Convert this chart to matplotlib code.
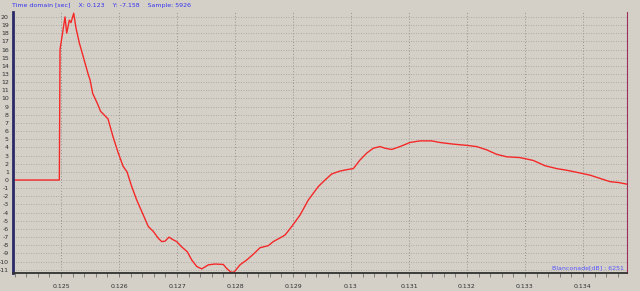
import numpy as np
from matplotlib import pyplot as plt
from matplotlib.ticker import MultipleLocator, FormatStrFormatter

# signal samples (time in sec, amplitude)
t = [0.124172, 0.124971, 0.124983, 0.125069, 0.125098, 0.125143, 0.125172,
     0.125219, 0.125259, 0.125316, 0.125384, 0.125471, 0.125500, 0.125547,
     0.125626, 0.125684, 0.125741, 0.125810, 0.125897, 0.125983, 0.126069,
     0.126138, 0.126219, 0.126305, 0.126419, 0.126505, 0.126591, 0.126678,
     0.126736, 0.126793, 0.126862, 0.126926, 0.126995, 0.127081, 0.127178,
     0.127253, 0.127340, 0.127426, 0.127540, 0.127655, 0.127798, 0.127857,
     0.127931, 0.127983, 0.128086, 0.128202, 0.128316, 0.128431, 0.128574,
     0.128660, 0.128776, 0.128862, 0.128978, 0.129121, 0.129264, 0.129436,
     0.129552, 0.129667, 0.129810, 0.129953, 0.130040, 0.130155, 0.130271,
     0.130384, 0.130500, 0.130586, 0.130702, 0.130845, 0.131017, 0.131190,
     0.131391, 0.131534, 0.131764, 0.131995, 0.132167, 0.132340, 0.132512,
     0.132684, 0.132914, 0.133143, 0.133345, 0.133547, 0.133719, 0.133891,
     0.134121, 0.134293, 0.134466, 0.134609, 0.134753]
amp = [0.0, 0.0, 16.0, 20.0, 18.0, 19.6, 19.3,
       20.45, 18.6, 16.8, 15.1, 12.9, 12.3, 10.6,
       9.4, 8.4, 8.0, 7.5, 5.3, 3.4, 1.7,
       1.0, -0.8, -2.45, -4.3, -5.7, -6.3, -7.15,
       -7.55, -7.5, -7.0, -7.3, -7.55, -8.2, -8.8,
       -9.8, -10.6, -10.9, -10.4, -10.3, -10.35, -10.85,
       -11.3, -11.3, -10.4, -9.8, -9.1, -8.3, -8.05,
       -7.55, -7.1, -6.75, -5.7, -4.3, -2.45, -0.8,
       0.0, 0.74, 1.1, 1.3, 1.4, 2.45, 3.3,
       3.9, 4.1, 3.9, 3.75, 4.1, 4.6, 4.8,
       4.8, 4.6, 4.4, 4.25, 4.1, 3.7, 3.15,
       2.85, 2.75, 2.4, 1.75, 1.4, 1.2, 0.95,
       0.6, 0.2, -0.2, -0.3, -0.5]

xticks = [0.125, 0.126, 0.127, 0.128, 0.129, 0.13, 0.131, 0.132, 0.133, 0.134]
xticklabels = ['0.125', '0.126', '0.127', '0.128', '0.129', '0.13', '0.131',
               '0.132', '0.133', '0.134']
yticks = list(range(-11, 21))

bg = '#d4d0c8'
fig = plt.figure(figsize=(6.4, 2.91), dpi=100, facecolor=bg)
ax = fig.add_axes([13 / 640, 1 - 273 / 291, 614 / 640, 261 / 291], facecolor=bg)

ax.plot(t, amp, color='#f52828', lw=1.0)

ax.set_xlim(0.124172, 0.134759)
ax.set_ylim(-11.4, 20.6)

ax.set_xticks(xticks)
ax.set_xticklabels(xticklabels, fontsize=4.5, color='#303030')
ax.xaxis.set_minor_locator(MultipleLocator(0.0002))
ax.set_yticks(yticks)
ax.set_yticklabels([str(v) for v in yticks], fontsize=4.5, color='#303030')
ax.tick_params(axis='x', which='both', direction='out', length=3, width=0.6,
               color='#707070', pad=5)
ax.tick_params(axis='y', length=0, pad=3)

# grid
ax.grid(axis='y', color='#a09d96', ls=(0, (1, 2)), lw=0.6)
ax.grid(axis='x', color='#96938c', ls=(0, (1, 2)), lw=0.7)

# spines
ax.spines['top'].set_visible(False)
ax.spines['left'].set_color('#2a2a68')
ax.spines['left'].set_linewidth(2)
ax.spines['bottom'].set_color('#303030')
ax.spines['bottom'].set_linewidth(1.3)
ax.spines['right'].set_color('#a03060')
ax.spines['right'].set_linewidth(0.8)

fig.text(12 / 640, 1 - 6 / 291,
         'Time domain [sec]    X: 0.123    Y: -7.158    Sample: 5926',
         color='#3333ee', fontsize=4.5, va='center', ha='left')
ax.text(0.995, 0.012, 'Blanconade[dB] : 6251', transform=ax.transAxes,
        color='#5555ff', fontsize=4.5, ha='right', va='bottom')

plt.savefig('out.png', dpi=100, facecolor=bg)
